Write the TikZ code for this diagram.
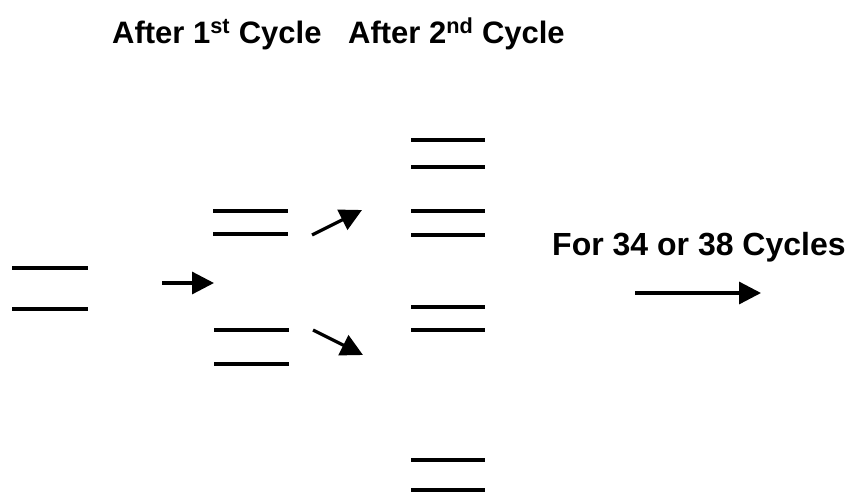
\documentclass[tikz,border=0pt]{standalone}
\usepackage{fontspec}
\setmainfont{Liberation Sans}
\usetikzlibrary{arrows.meta}

\tikzset{
  band/.style={line width=3.3pt},
  flow/.style={line width=3.3pt, -{Triangle[length=22pt,width=22pt]}},
  caption/.style={font=\bfseries\fontsize{31}{36}\selectfont, inner sep=0pt},
}

\begin{document}
\begin{tikzpicture}[x=1pt, y=-1pt]
  \useasboundingbox (0,0) rectangle (848,493);

  % column headings
  \node[caption, anchor=base west] (head1) at (112,43) {After 1\textsuperscript{st} Cycle};
  \node[caption, anchor=base west] (head2) at (348,43) {After 2\textsuperscript{nd} Cycle};

  % starting template: one pair of bands
  \draw[band] (12,268) -- (88,268);
  \draw[band] (12,309) -- (88,309);

  % after the first cycle: two pairs
  \draw[band] (213,211) -- (288,211);
  \draw[band] (213,234) -- (288,234);
  \draw[band] (214,330) -- (289,330);
  \draw[band] (214,364) -- (289,364);

  % after the second cycle: four pairs
  \foreach \yy in {140,167,211,235,307,330,460,490}
    \draw[band] (411,\yy) -- (485,\yy);

  % connector end points
  \coordinate (a0) at (162,283);
  \coordinate (a1) at (214,283);
  \coordinate (b0) at (312,235);
  \coordinate (b1) at (362,210);
  \coordinate (c0) at (313,330);
  \coordinate (c1) at (363,355);
  \coordinate (d0) at (635,293);
  \coordinate (d1) at (761,293);

  \draw[flow] (a0) -- (a1);
  \draw[flow] (b0) -- (b1);
  \draw[flow] (c0) -- (c1);
  \draw[flow] (d0) -- (d1);

  % repetition note
  \node[caption, font=\bfseries\fontsize{32}{37}\selectfont, anchor=base west] (repeat) at (552,255) {For 34 or 38 Cycles};
\end{tikzpicture}
\end{document}
